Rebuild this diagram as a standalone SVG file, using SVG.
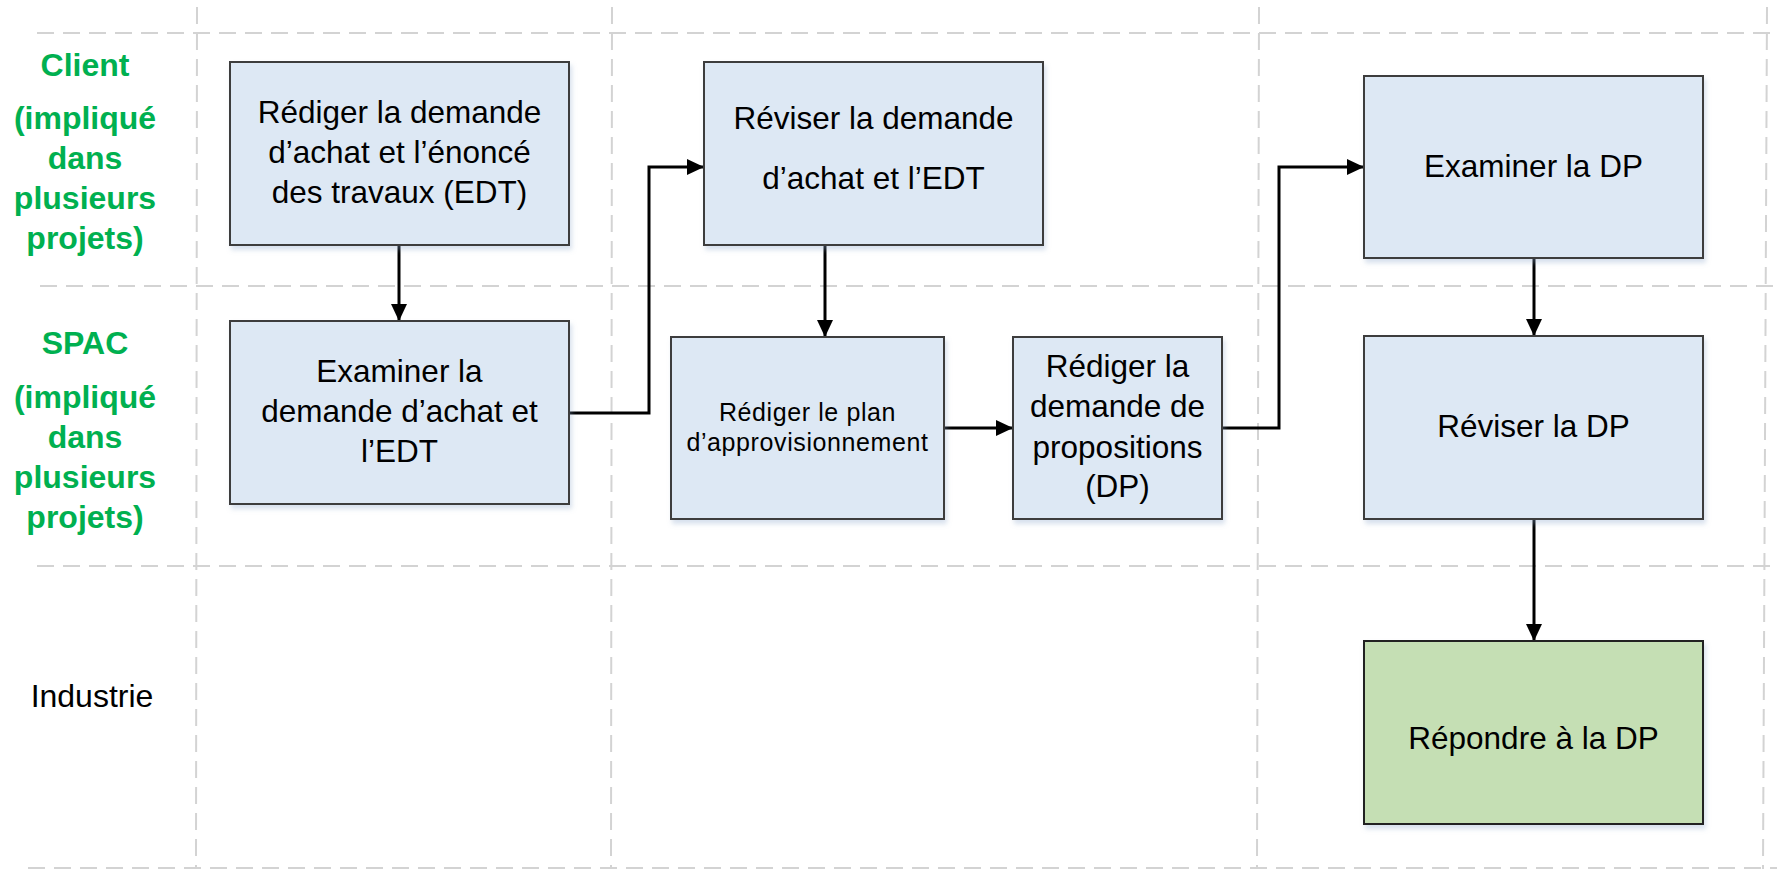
<svg xmlns="http://www.w3.org/2000/svg" width="1777" height="869" viewBox="0 0 1777 869">
  <defs>
    <style>
      .grid { stroke: #D3D3D3; stroke-width: 2; stroke-dasharray: 17 9; fill: none; }
      .box { fill: #DDE8F4; stroke: #3C3C3C; stroke-width: 2; filter: url(#shadow); }
      .box.resp { fill: #C5DFB4; stroke: #222222; }
      .txt { font-family: "Liberation Sans", Arial, sans-serif; font-size: 31.5px; fill: #000000; text-anchor: middle; }
      .small { font-size: 25px; letter-spacing: 0.6px; }
      .lane { font-family: "Liberation Sans", Arial, sans-serif; font-size: 32px; font-weight: bold; fill: #00B050; text-anchor: middle; }
      .plain { font-family: "Liberation Sans", Arial, sans-serif; font-size: 32px; fill: #000000; text-anchor: middle; }
      .conn { stroke: #000000; stroke-width: 3; fill: none; marker-end: url(#arrow); }
    </style>
    <filter id="shadow" x="-5%" y="-5%" width="115%" height="120%">
      <feDropShadow dx="2" dy="4" stdDeviation="2.5" flood-color="#8FA9CC" flood-opacity="0.35"/>
    </filter>
    <marker id="arrow" markerUnits="userSpaceOnUse" markerWidth="18" markerHeight="18" refX="17" refY="8" orient="auto">
      <path d="M0,0 L17,8 L0,16 z" fill="#000000"/>
    </marker>
  </defs>

  <rect x="0" y="0" width="1777" height="869" fill="#FFFFFF"/>

  <!-- lane / phase grid -->
  <g id="grid">
    <line class="grid" x1="37" y1="33" x2="1775" y2="33"/>
    <line class="grid" x1="40" y1="286" x2="1775" y2="286"/>
    <line class="grid" x1="37" y1="566" x2="1775" y2="566"/>
    <line class="grid" x1="28" y1="868" x2="1777" y2="868"/>
    <line class="grid" x1="197" y1="7" x2="196" y2="869"/>
    <line class="grid" x1="612" y1="7" x2="611" y2="869"/>
    <line class="grid" x1="1259" y1="7" x2="1257" y2="869"/>
    <line class="grid" x1="1767" y1="7" x2="1763" y2="869"/>
  </g>

  <!-- lane labels -->
  <g id="lane-client">
    <text class="lane" x="85" y="76">Client</text>
    <text class="lane" x="85" y="129">(impliqué</text>
    <text class="lane" x="85" y="169">dans</text>
    <text class="lane" x="85" y="209">plusieurs</text>
    <text class="lane" x="85" y="249">projets)</text>
  </g>
  <g id="lane-spac">
    <text class="lane" x="85" y="354">SPAC</text>
    <text class="lane" x="85" y="408">(impliqué</text>
    <text class="lane" x="85" y="448">dans</text>
    <text class="lane" x="85" y="488">plusieurs</text>
    <text class="lane" x="85" y="528">projets)</text>
  </g>
  <g id="lane-industrie">
    <text class="plain" x="92" y="707">Industrie</text>
  </g>

  <!-- connectors -->
  <g id="connectors">
    <path class="conn" d="M399,245 L399,321"/>
    <path class="conn" d="M569,413 L649,413 L649,167 L704,167"/>
    <path class="conn" d="M825,245 L825,337"/>
    <path class="conn" d="M944,428 L1013,428"/>
    <path class="conn" d="M1222,428 L1279,428 L1279,167 L1364,167"/>
    <path class="conn" d="M1534,258 L1534,336"/>
    <path class="conn" d="M1534,519 L1534,641"/>
  </g>

  <!-- process steps -->
  <g id="node-rediger-demande">
    <rect class="box" x="230" y="62" width="339" height="183"/>
    <text class="txt" x="399.5" y="123">Rédiger la demande</text>
    <text class="txt" x="399.5" y="163">d’achat et l’énoncé</text>
    <text class="txt" x="399.5" y="203">des travaux (EDT)</text>
  </g>
  <g id="node-examiner-demande">
    <rect class="box" x="230" y="321" width="339" height="183"/>
    <text class="txt" x="399.5" y="382">Examiner la</text>
    <text class="txt" x="399.5" y="422">demande d’achat et</text>
    <text class="txt" x="399.5" y="462">l’EDT</text>
  </g>
  <g id="node-reviser-demande">
    <rect class="box" x="704" y="62" width="339" height="183"/>
    <text class="txt" x="873.5" y="129">Réviser la demande</text>
    <text class="txt" x="873.5" y="189">d’achat et l’EDT</text>
  </g>
  <g id="node-plan-approvisionnement">
    <rect class="box" x="671" y="337" width="273" height="182"/>
    <text class="txt small" x="807.5" y="421">Rédiger le plan</text>
    <text class="txt small" x="807.5" y="451">d’approvisionnement</text>
  </g>
  <g id="node-rediger-dp">
    <rect class="box" x="1013" y="337" width="209" height="182"/>
    <text class="txt" x="1117.5" y="377">Rédiger la</text>
    <text class="txt" x="1117.5" y="417">demande de</text>
    <text class="txt" x="1117.5" y="458">propositions</text>
    <text class="txt" x="1117.5" y="497">(DP)</text>
  </g>
  <g id="node-examiner-dp">
    <rect class="box" x="1364" y="76" width="339" height="182"/>
    <text class="txt" x="1533.5" y="177">Examiner la DP</text>
  </g>
  <g id="node-reviser-dp">
    <rect class="box" x="1364" y="336" width="339" height="183"/>
    <text class="txt" x="1533.5" y="437">Réviser la DP</text>
  </g>
  <g id="node-repondre-dp">
    <rect class="box resp" x="1364" y="641" width="339" height="183"/>
    <text class="txt" x="1533.5" y="749">Répondre à la DP</text>
  </g>
</svg>
